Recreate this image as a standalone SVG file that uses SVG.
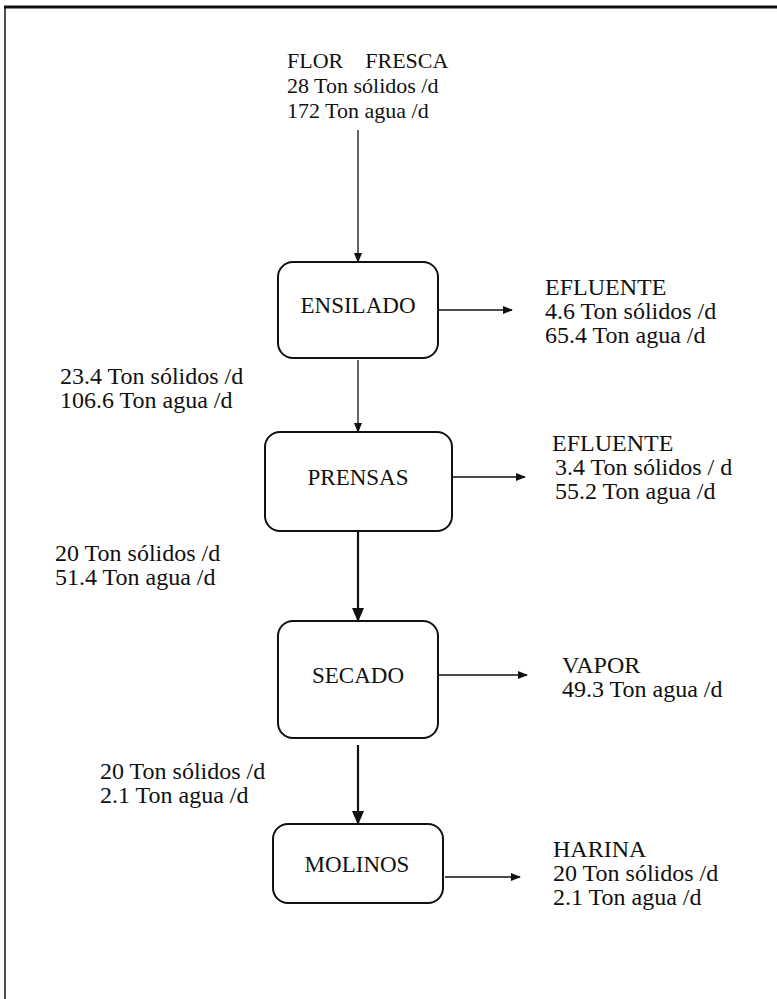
<svg xmlns="http://www.w3.org/2000/svg" width="777" height="999" viewBox="0 0 777 999">
<style>
text{font-family:"Liberation Serif","Times New Roman",serif;font-size:24px;fill:#111}
.top{font-size:22px}
.bx{font-size:23px}
.box{fill:#fff;stroke:#111;stroke-width:2}
.c{stroke:#111;stroke-width:1.3;fill:none}
.ct{stroke:#111;stroke-width:2.2;fill:none}
.mid{text-anchor:middle}
</style>
<defs>
<marker id="ah" markerWidth="10" markerHeight="8" refX="9" refY="4" orient="auto" markerUnits="userSpaceOnUse"><path d="M0,0 L10,4 L0,8 Z" fill="#111"/></marker>
<marker id="ahb" markerWidth="14" markerHeight="12" refX="13" refY="6" orient="auto" markerUnits="userSpaceOnUse"><path d="M0,0 L14,6 L0,12 Z" fill="#111"/></marker>
</defs>
<g id="frame" fill="none" stroke="#111">
<line x1="4" y1="7" x2="777" y2="7" stroke-width="3"/>
<line x1="5" y1="7" x2="5" y2="999" stroke-width="1.5"/>
</g>
<g id="connectors">
<line class="c" x1="358" y1="130" x2="358" y2="262" marker-end="url(#ah)"/>
<line class="c" x1="438" y1="310" x2="512" y2="310" marker-end="url(#ah)"/>
<line class="c" x1="358" y1="360" x2="358" y2="432" marker-end="url(#ah)"/>
<line class="c" x1="452" y1="477" x2="525" y2="477" marker-end="url(#ah)"/>
<line class="ct" x1="358" y1="531" x2="358" y2="621" marker-end="url(#ahb)"/>
<line class="c" x1="438" y1="675" x2="527" y2="675" marker-end="url(#ah)"/>
<line class="ct" x1="358" y1="745" x2="358" y2="824" marker-end="url(#ahb)"/>
<line class="c" x1="445" y1="877" x2="520" y2="877" marker-end="url(#ah)"/>
</g>
<g id="flor">
<text class="top" x="287" y="68" xml:space="preserve">FLOR    FRESCA</text>
<text class="top" x="287" y="93">28 Ton sólidos /d</text>
<text class="top" x="287" y="118">172 Ton agua /d</text>
</g>
<g id="ensilado">
<rect class="box" x="278" y="262" width="160" height="96" rx="15"/>
<text class="mid bx" x="358" y="313">ENSILADO</text>
</g>
<g id="efluente1">
<text x="545" y="295">EFLUENTE</text>
<text x="545" y="319">4.6 Ton sólidos /d</text>
<text x="545" y="343">65.4 Ton agua /d</text>
</g>
<g id="flow1">
<text x="60" y="384">23.4 Ton sólidos /d</text>
<text x="60" y="408">106.6 Ton agua /d</text>
</g>
<g id="prensas">
<rect class="box" x="265" y="432" width="187" height="99" rx="15"/>
<text class="mid bx" x="358" y="485">PRENSAS</text>
</g>
<g id="efluente2">
<text x="552" y="451">EFLUENTE</text>
<text x="555" y="475">3.4 Ton sólidos / d</text>
<text x="555" y="499">55.2 Ton agua /d</text>
</g>
<g id="flow2">
<text x="55" y="561">20 Ton sólidos /d</text>
<text x="55" y="585">51.4 Ton agua /d</text>
</g>
<g id="secado">
<rect class="box" x="278" y="621" width="160" height="117" rx="15"/>
<text class="mid bx" x="358" y="683">SECADO</text>
</g>
<g id="vapor">
<text x="562" y="673">VAPOR</text>
<text x="562" y="697">49.3 Ton agua /d</text>
</g>
<g id="flow3">
<text x="100" y="779">20 Ton sólidos /d</text>
<text x="100" y="803">2.1 Ton agua /d</text>
</g>
<g id="molinos">
<rect class="box" x="273" y="824" width="170" height="79" rx="15"/>
<text class="mid bx" x="357" y="872">MOLINOS</text>
</g>
<g id="harina">
<text x="553" y="857">HARINA</text>
<text x="553" y="881">20 Ton sólidos /d</text>
<text x="553" y="905">2.1 Ton agua /d</text>
</g>
</svg>
